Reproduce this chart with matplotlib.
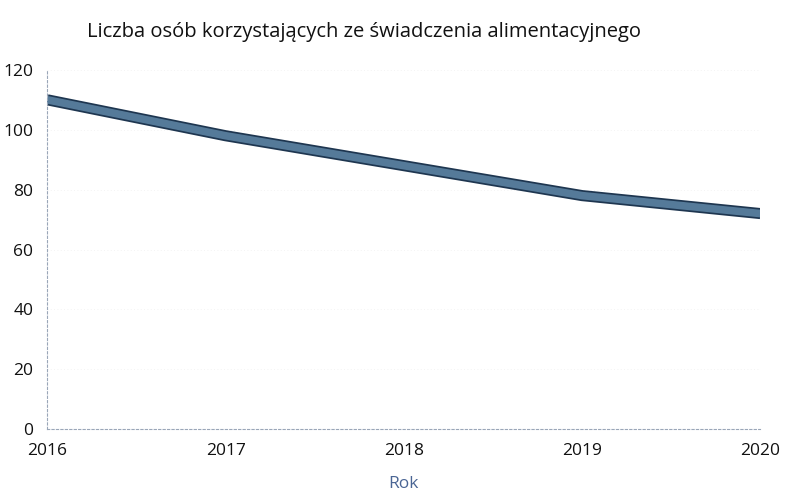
import matplotlib
matplotlib.use("Agg")
import matplotlib.pyplot as plt
import matplotlib.patheffects as pe

years = [2016, 2017, 2018, 2019, 2020]
persons = [110, 98, 88, 78, 72]
y_ticks = [0, 20, 40, 60, 80, 100, 120]

plt.rcParams['font.family'] = ['Open Sans', 'DejaVu Sans']

fig = plt.figure(figsize=(7.88, 4.99), dpi=100)
ax = fig.add_axes([0.06, 0.14, 0.905, 0.72])

ax.plot(years, persons, color="#557a99", linewidth=5.5, solid_joinstyle="round",
        solid_capstyle="butt",
        path_effects=[pe.Stroke(linewidth=8, foreground="#1e3650"), pe.Normal()])

ax.set_xlim(years[0], years[-1])
ax.set_ylim(0, 120)
ax.set_yticks(y_ticks)
ax.set_xticks(years)
ax.set_xticklabels([str(y) for y in years])

for side in ("top", "right"):
    ax.spines[side].set_visible(False)
for side in ("left", "bottom"):
    ax.spines[side].set_linestyle((0, (2, 2)))
    ax.spines[side].set_color("#9aa6b8")
    ax.spines[side].set_linewidth(0.8)

ax.tick_params(axis="both", length=0, labelsize=12.5, colors="#111111")
ax.tick_params(axis="x", pad=10)
ax.tick_params(axis="y", pad=10)

ax.grid(axis="y", color="#f0f0f0", linewidth=0.6, linestyle=(0, (1, 3)))

fig.text(0.11, 0.935, "Liczba osób korzystających ze świadczenia alimentacyjnego",
         fontsize=14.5, color="#111111", ha="left", va="center")
ax.set_xlabel("Rok", fontsize=12.5, color="#4a6594", labelpad=12)

fig.savefig("out.png", dpi=100, facecolor="white")
